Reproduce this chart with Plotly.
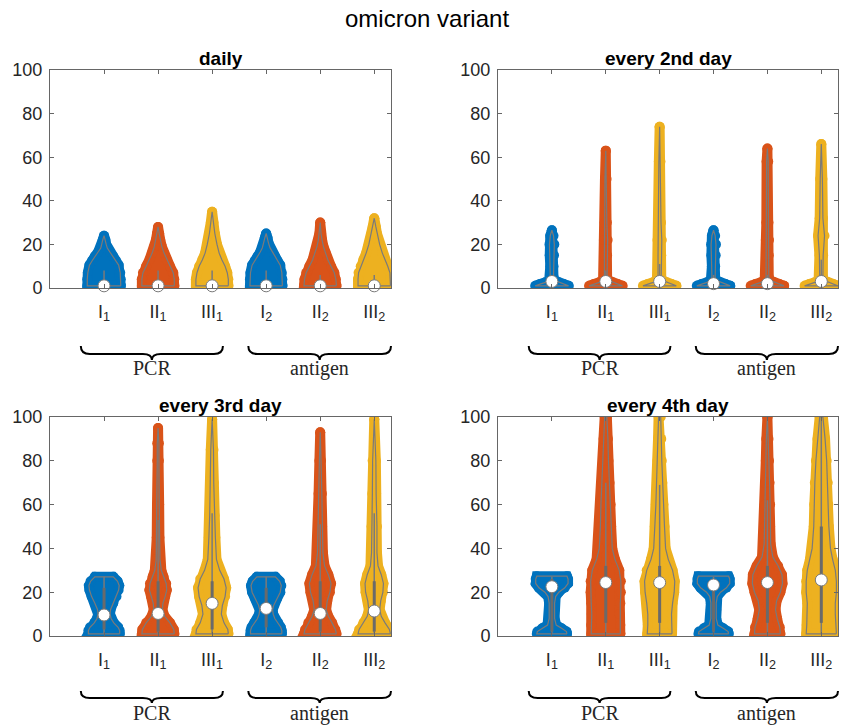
import plotly.graph_objects as go

# ---------------- data ----------------
categories = ["I<sub>1</sub>", "II<sub>1</sub>", "III<sub>1</sub>",
              "I<sub>2</sub>", "II<sub>2</sub>", "III<sub>2</sub>"]
panel_titles = ["daily", "every 2nd day", "every 3rd day", "every 4th day"]
group_labels = ["PCR", "antigen"]
group_spans = [[0.57, 3.2], [3.67, 6.31]]
y_ticks = [0, 20, 40, 60, 80, 100]

# violin profiles: levels (y) and half-widths (x units), one list per category
daily_levels = [
    [1, 4, 7, 10.5, 12.5, 14.5, 16.5, 18.3, 20, 22, 24],
    [1, 4, 7, 10, 13, 16, 19, 22, 25, 28],
    [1, 4, 7, 10, 13, 16, 20, 25, 30, 35],
    [1, 4, 7, 10.5, 12.5, 14.5, 16.5, 18.5, 20.5, 23, 25],
    [1, 4, 7, 10, 13, 16, 19, 22, 25, 30],
    [1, 4, 7, 10, 13, 16, 20, 25, 28, 32],
]
daily_widths = [
    [0.31, 0.31, 0.30, 0.27, 0.22, 0.17, 0.11, 0.06, 0.04, 0.025, 0.0],
    [0.30, 0.30, 0.28, 0.22, 0.16, 0.11, 0.07, 0.04, 0.02, 0.0],
    [0.30, 0.30, 0.28, 0.24, 0.18, 0.13, 0.09, 0.05, 0.025, 0.0],
    [0.30, 0.30, 0.29, 0.26, 0.21, 0.16, 0.11, 0.07, 0.045, 0.025, 0.0],
    [0.30, 0.29, 0.26, 0.20, 0.14, 0.10, 0.06, 0.035, 0.015, 0.0],
    [0.30, 0.30, 0.29, 0.25, 0.20, 0.15, 0.10, 0.05, 0.03, 0.0],
]
daily_median = [1, 1, 1, 1, 1, 1]
daily_q1 = [1, 1, 1, 1, 1, 1]
daily_q3 = [3, 3, 3, 3, 3, 3]
daily_whisker = [8, 8, 8, 8, 6, 6]

second_levels = [
    [1, 1.8, 2.6, 3.5, 5, 10, 15, 20, 24, 26.5],
    [1, 1.8, 2.6, 3.5, 5, 15, 22, 30, 50, 63],
    [1, 1.8, 2.6, 3.5, 5, 15, 22, 30, 58, 74],
    [1, 1.8, 2.6, 3.5, 5, 10, 15, 20, 24, 26.5],
    [1, 1.8, 2.6, 3.5, 5, 15, 22, 30, 58, 64],
    [1, 1.8, 2.6, 3.5, 5, 15, 24, 32, 50, 66],
]
second_widths = [
    [0.31, 0.22, 0.12, 0.05, 0.03, 0.03, 0.04, 0.045, 0.03, 0.0],
    [0.31, 0.22, 0.12, 0.05, 0.025, 0.025, 0.035, 0.02, 0.015, 0.0],
    [0.31, 0.22, 0.12, 0.05, 0.03, 0.03, 0.04, 0.025, 0.015, 0.0],
    [0.31, 0.22, 0.12, 0.05, 0.03, 0.03, 0.04, 0.045, 0.03, 0.0],
    [0.31, 0.22, 0.12, 0.05, 0.025, 0.025, 0.03, 0.02, 0.015, 0.0],
    [0.31, 0.22, 0.12, 0.05, 0.03, 0.035, 0.06, 0.03, 0.02, 0.0],
]
second_median = [3, 3, 3, 2, 2, 3]
second_q1 = [1, 1, 1, 1, 1, 1]
second_q3 = [3, 4, 5, 3, 3, 6]
second_whisker = [6, 8, 11, 6, 6, 13]

third_levels = [
    [1, 2.5, 4, 6, 8, 10, 12, 15, 18, 21, 23, 25, 27],
    [1, 3, 6, 9, 12, 15, 18, 21, 24, 27, 30, 35, 45, 60, 80, 88, 95],
    [1, 3, 6, 10, 14, 18, 22, 26, 30, 35, 45, 55, 70, 85, 99],
    [1, 2.5, 4, 6, 8, 10, 12, 14, 17, 20, 23, 25, 27],
    [1, 3, 6, 9, 12, 16, 20, 24, 28, 32, 38, 50, 65, 80, 93],
    [1, 3, 6, 9, 12, 16, 20, 24, 28, 32, 38, 50, 65, 80, 99],
]
third_widths = [
    [0.29, 0.29, 0.26, 0.18, 0.13, 0.11, 0.12, 0.17, 0.23, 0.27, 0.28, 0.25, 0.17],
    [0.30, 0.29, 0.22, 0.12, 0.08, 0.09, 0.13, 0.16, 0.15, 0.10, 0.06, 0.035, 0.025, 0.02, 0.015, 0.015, 0.0],
    [0.30, 0.29, 0.22, 0.17, 0.19, 0.24, 0.26, 0.22, 0.14, 0.08, 0.06, 0.045, 0.03, 0.025, 0.0],
    [0.29, 0.29, 0.27, 0.22, 0.16, 0.13, 0.12, 0.14, 0.20, 0.26, 0.28, 0.25, 0.17],
    [0.30, 0.28, 0.22, 0.15, 0.11, 0.13, 0.18, 0.20, 0.15, 0.08, 0.05, 0.035, 0.03, 0.015, 0.0],
    [0.30, 0.28, 0.20, 0.13, 0.10, 0.12, 0.16, 0.17, 0.13, 0.07, 0.05, 0.05, 0.035, 0.03, 0.0],
]
third_median = [9.6, 10.3, 14.9, 12.6, 10.3, 11.4]
third_q1 = [3, 2, 3, 4, 2, 2]
third_q3 = [22, 25, 25, 22, 25, 25]
third_whisker = [27, 53, 56, 27, 51, 56]

fourth_levels = [
    [1, 2, 3.5, 5, 8, 12, 15, 18, 20, 22, 24, 26, 27.3],
    [1, 5, 10, 15, 20, 25, 30, 35, 40, 50, 60, 70, 80, 90, 100],
    [1, 5, 10, 15, 20, 25, 30, 35, 40, 50, 60, 70, 80, 90, 100],
    [1, 2, 3.5, 5, 8, 12, 15, 18, 20, 22, 24, 26, 27.3],
    [1, 4, 8, 12, 16, 20, 24, 28, 32, 36, 42, 50, 60, 70, 80, 90, 100],
    [1, 5, 10, 15, 20, 25, 30, 35, 40, 50, 60, 70, 80, 90, 100],
]
fourth_widths = [
    [0.28, 0.27, 0.18, 0.08, 0.05, 0.05, 0.05, 0.07, 0.13, 0.24, 0.30, 0.30, 0.28],
    [0.27, 0.27, 0.26, 0.27, 0.28, 0.28, 0.25, 0.17, 0.12, 0.10, 0.09, 0.07, 0.05, 0.04, 0.02],
    [0.23, 0.22, 0.22, 0.24, 0.27, 0.28, 0.24, 0.16, 0.11, 0.09, 0.07, 0.05, 0.04, 0.03, 0.02],
    [0.28, 0.27, 0.18, 0.08, 0.05, 0.05, 0.05, 0.07, 0.13, 0.24, 0.30, 0.30, 0.28],
    [0.24, 0.23, 0.18, 0.15, 0.17, 0.24, 0.28, 0.27, 0.20, 0.10, 0.06, 0.05, 0.05, 0.04, 0.03, 0.02, 0.0],
    [0.28, 0.27, 0.26, 0.26, 0.28, 0.28, 0.26, 0.21, 0.17, 0.14, 0.13, 0.12, 0.10, 0.07, 0.03],
]
fourth_median = [22.5, 24.4, 24.4, 23.3, 24.4, 25.6]
fourth_q1 = [2, 6, 6, 2, 6, 6]
fourth_q3 = [26, 32, 32, 26, 32, 50]
fourth_whisker = [27, 70, 69, 27, 62, 100]

# ---------------- styling / layout ----------------
W, H = 849, 726
colors = ["#0072BD", "#D95319", "#EDB120"] * 2
outline_gray = "#7a7a7a"
box_gray = "#6a6a6a"
axis_col = "#666666"
text_col = "#262626"

col_dom = [[50 / W, 391 / W], [498 / W, 838 / W]]
row_px = [[70, 288], [417, 636]]  # top, bottom pixel of each row
# brace geometry below each row: (end top, horizontal, tip, label centre) in px below axis
brace_px = [(58, 66, 72, 80), (55, 62, 67, 77)]
x_range = [0, 6.31]
positions = list(range(1, len(categories) + 1))

panels = [
    (daily_levels, daily_widths, daily_median, daily_q1, daily_q3, daily_whisker),
    (second_levels, second_widths, second_median, second_q1, second_q3, second_whisker),
    (third_levels, third_widths, third_median, third_q1, third_q3, third_whisker),
    (fourth_levels, fourth_widths, fourth_median, fourth_q1, fourth_q3, fourth_whisker),
]

fig = go.Figure()
layout = dict(
    width=W, height=H, margin=dict(l=0, r=0, t=0, b=0, pad=0, autoexpand=False),
    paper_bgcolor="white", plot_bgcolor="white", showlegend=False,
    font=dict(family="Liberation Sans, Arial, sans-serif", color=text_col),
)
annotations = []
shapes = []


def py(pix):
    return 1 - pix / H


for p, (levels, widths, med, q1, q3, whisk) in enumerate(panels):
    r, c = divmod(p, 2)
    sfx = "" if p == 0 else str(p + 1)
    xa, ya = "x" + sfx, "y" + sfx
    top_px, bot_px = row_px[r]
    xd = col_dom[c]
    yd = [py(bot_px), py(top_px)]

    for i, pos in enumerate(positions):
        ys, ws = levels[i], widths[i]
        xs = [pos + w for w in ws] + [pos - w for w in reversed(ws)]
        yy = list(ys) + list(reversed(ys))
        xs.append(xs[0]); yy.append(yy[0])
        # scatter cloud (approximated by a thick, round-cornered outline of the density)
        fig.add_trace(go.Scatter(
            x=xs, y=yy, xaxis=xa, yaxis=ya, mode="lines+markers", fill="toself",
            fillcolor=colors[i], line=dict(color=colors[i], width=10),
            marker=dict(size=10, color=colors[i], line=dict(width=0)),
            hoverinfo="skip"))
        # kernel density outline
        fig.add_trace(go.Scatter(
            x=xs, y=yy, xaxis=xa, yaxis=ya, mode="lines",
            line=dict(color=outline_gray, width=1.2), hoverinfo="skip"))

    wx, wy, bx, by = [], [], [], []
    for i, pos in enumerate(positions):
        wx += [pos, pos, None]; wy += [1, whisk[i], None]
        bx += [pos, pos, None]; by += [q1[i], q3[i], None]
    fig.add_trace(go.Scatter(x=wx, y=wy, xaxis=xa, yaxis=ya, mode="lines",
                             line=dict(color=outline_gray, width=1.5), hoverinfo="skip"))
    fig.add_trace(go.Scatter(x=bx, y=by, xaxis=xa, yaxis=ya, mode="lines",
                             line=dict(color=box_gray, width=3), hoverinfo="skip"))
    fig.add_trace(go.Scatter(x=positions, y=med, xaxis=xa, yaxis=ya, mode="markers",
                             marker=dict(size=12, color="white",
                                         line=dict(color=outline_gray, width=1)),
                             hoverinfo="skip", cliponaxis=False))

    axcommon = dict(showline=True, linecolor=axis_col, linewidth=1, mirror="ticks",
                    ticks="inside", ticklen=4, tickcolor=axis_col, showgrid=False,
                    zeroline=False, automargin=False, tickfont=dict(size=18, color=text_col))
    layout["xaxis" + sfx] = dict(domain=xd, range=x_range, anchor=ya,
                                 tickvals=positions, ticktext=categories,
                                 ticklabelstandoff=7, **axcommon)
    layout["yaxis" + sfx] = dict(domain=yd, range=[0, 100], anchor=xa,
                                 tickvals=y_ticks, ticklabelstandoff=3, **axcommon)

    # subplot title
    annotations.append(dict(text="<b>%s</b>" % panel_titles[p], xref="paper", yref="paper",
                            x=(xd[0] + xd[1]) / 2, y=py(top_px - 12), xanchor="center",
                            yanchor="middle", showarrow=False,
                            font=dict(size=19, color="black")))

    # braces + group labels
    def to_px(xv):
        return xd[0] + (xv - x_range[0]) / (x_range[1] - x_range[0]) * (xd[1] - xd[0])
    b_top, b_mid, b_tip, b_lab = brace_px[r]
    y_top, y_mid, y_tip = py(bot_px + b_top), py(bot_px + b_mid), py(bot_px + b_tip)
    rr = 9 / W
    for g, (a, b) in enumerate(group_spans):
        xl, xr = to_px(a), to_px(b)
        xc = (xl + xr) / 2
        path = ("M %f,%f Q %f,%f %f,%f L %f,%f Q %f,%f %f,%f Q %f,%f %f,%f L %f,%f Q %f,%f %f,%f"
                % (xl, y_top, xl, y_mid, xl + rr, y_mid, xc - rr, y_mid, xc, y_mid, xc, y_tip,
                   xc, y_mid, xc + rr, y_mid, xr - rr, y_mid, xr, y_mid, xr, y_top))
        shapes.append(dict(type="path", path=path, xref="paper", yref="paper",
                           line=dict(color="black", width=2)))
        annotations.append(dict(text=group_labels[g], xref="paper", yref="paper",
                                x=xc, y=py(bot_px + b_lab), xanchor="center", yanchor="middle",
                                showarrow=False,
                                font=dict(size=20, family="Liberation Serif, Times New Roman, serif",
                                          color=text_col)))

annotations.append(dict(text="omicron variant", xref="paper", yref="paper", x=427 / W,
                        y=py(19), xanchor="center", yanchor="middle", showarrow=False,
                        font=dict(size=24, color="black")))
layout["annotations"] = annotations
layout["shapes"] = shapes
fig.update_layout(**layout)
fig.write_html("out.html", config={"displayModeBar": False},
               post_script="document.body.style.margin='0';document.body.style.overflow='hidden';")
